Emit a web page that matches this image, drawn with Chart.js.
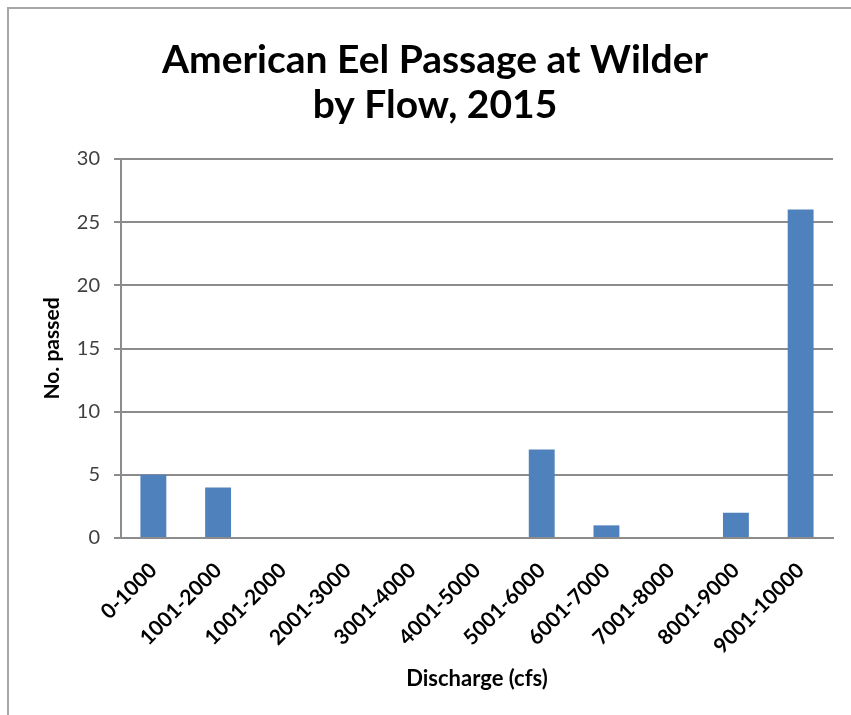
<!DOCTYPE html>
<html>
<head>
<meta charset="utf-8">
<script src="https://cdn.jsdelivr.net/npm/chart.js@4"></script>
<style>
  html, body { margin: 0; padding: 0; background: #fff; }
  #wrap { position: relative; width: 851px; height: 715px; }
  #frame { position: absolute; left: 7px; top: 7px; right: -5px; bottom: -5px; border: 2px solid #a6a6a6; }
  canvas { position: absolute; left: 0; top: 0; }
</style>
</head>
<body>
<div id="wrap">
  <div id="frame"></div>
  <canvas id="eelChart" width="851" height="715"></canvas>
</div>
<script>
const flowBins = ["0-1000", "1001-2000", "1001-2000", "2001-3000", "3001-4000", "4001-5000",
  "5001-6000", "6001-7000", "7001-8000", "8001-9000", "9001-10000"];
const eelsPassed = [5, 4, 0, 0, 0, 0, 7, 1, 0, 2, 26];
const yTicks = [0, 5, 10, 15, 20, 25, 30];

const font = "Lato, 'Open Sans', sans-serif";
const gridGray = "#8c8c8c";

const ctx = document.getElementById("eelChart");
new Chart(ctx, {
  type: "bar",
  data: {
    labels: flowBins,
    datasets: [
      {
        label: "No. passed",
        data: eelsPassed,
        backgroundColor: "#4f81bd",
        barPercentage: 0.4,
        categoryPercentage: 1,
      },
    ],
  },
  options: {
    responsive: false,
    animation: false,
    layout: { padding: { left: 37, right: 18, top: 0, bottom: 0 } },
    plugins: {
      legend: { display: false },
      tooltip: { enabled: false },
      title: {
        display: true,
        text: ["American Eel Passage at Wilder", "by Flow, 2015"],
        color: "#000",
        font: { family: font, size: 39, weight: "bold", lineHeight: 1.154 },
        padding: { top: 38, bottom: 31 },
      },
    },
    scales: {
      x: {
        grid: { display: false, drawTicks: false },
        border: { display: true, color: gridGray, width: 2 },
        ticks: {
          color: "#000",
          minRotation: 45,
          maxRotation: 45,
          padding: 20,
          font: { family: font, size: 21, weight: "bold" },
        },
        title: {
          display: true,
          text: "Discharge (cfs)",
          color: "#000",
          font: { family: font, size: 22, weight: "bold" },
          padding: { top: 0, bottom: 23 },
        },
        afterFit: (scale) => { scale.height = 177; },
      },
      y: {
        min: 0,
        max: 30,
        afterBuildTicks: (scale) => { scale.ticks = yTicks.map((v) => ({ value: v })); },
        grid: { color: gridGray, lineWidth: 2, tickLength: 7 },
        border: { display: true, color: gridGray, width: 2 },
        ticks: {
          color: "#404040",
          padding: 14,
          font: { family: font, size: 20 },
        },
        title: {
          display: true,
          text: "No. passed",
          color: "#000",
          font: { family: font, size: 21, weight: "bold" },
          padding: { top: 3 },
        },
        afterFit: (scale) => { scale.width = 84; },
      },
    },
  },
});
</script>
</body>
</html>
